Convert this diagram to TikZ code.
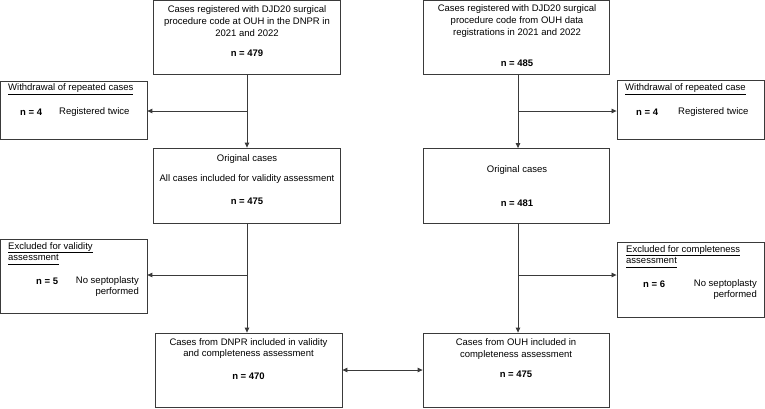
\documentclass[tikz,border=0pt]{standalone}
\usepackage{fontspec}
\setmainfont{Liberation Sans}
\usetikzlibrary{arrows.meta}
\definecolor{lin}{HTML}{3A3A3A}
\newcommand\myul[1]{\underline{\smash{#1}\vphantom{g}}}
\tikzset{
  box/.style={draw=lin, line width=0.8pt, rectangle, inner sep=0pt},
  txt/.style={inner sep=0pt, font=\fontsize{9.5}{11.6}\selectfont, align=center},
  arr/.style={draw=lin, line width=0.8pt, -{Triangle[length=5pt,width=4.5pt]}},
  darr/.style={draw=lin, line width=0.8pt, {Triangle[length=5pt,width=4.5pt]}-{Triangle[length=5pt,width=4.5pt]}}
}
\begin{document}
\begin{tikzpicture}[x=1pt,y=-1pt]
\useasboundingbox (0,0) rectangle (765,408);
% boxes
\node[box, minimum width=187pt, minimum height=73.5pt] (A) at (246.5,37.2) {};
\node[box, minimum width=186pt, minimum height=73.5pt] (D) at (516,37.2) {};
\node[box, minimum width=146.5pt, minimum height=58pt] (WL) at (73.7,110) {};
\node[box, minimum width=147.5pt, minimum height=59pt] (WR) at (690.7,109.5) {};
\node[box, minimum width=187pt, minimum height=75pt] (B) at (246.5,185.5) {};
\node[box, minimum width=186pt, minimum height=75pt] (E) at (516,186) {};
\node[box, minimum width=146.5pt, minimum height=74pt] (XL) at (73.7,276) {};
\node[box, minimum width=147.5pt, minimum height=75pt] (XR) at (690.7,279.5) {};
\node[box, minimum width=187pt, minimum height=74pt] (C) at (248.5,370) {};
\node[box, minimum width=186pt, minimum height=74pt] (F) at (516,370) {};
% texts
\node[txt] (tA) at (247,21) {Cases registered with DJD20 surgical\\procedure code at OUH in the DNPR in\\2021 and 2022};
\node[txt] (nA) at (247,53.7) {\textbf{n = 479}};
\node[txt] (tD) at (517,21) {Cases registered with DJD20 surgical\\procedure code from OUH data\\registrations in 2021 and 2022};
\node[txt] (nD) at (517,63) {\textbf{n = 485}};
\node[txt, anchor=west] (hWL) at (8,90) {\myul{Withdrawal of repeated cases}};
\node[txt, anchor=west] (nWL) at (20,112) {\textbf{n = 4}};
\node[txt, anchor=west] (rWL) at (59,112) {Registered twice};
\node[txt, anchor=west] (hWR) at (625,90) {\myul{Withdrawal of repeated case}};
\node[txt, anchor=west] (nWR) at (636,112) {\textbf{n = 4}};
\node[txt, anchor=west] (rWR) at (678,112) {Registered twice};
\node[txt] (oB) at (247,159) {Original cases};
\node[txt] (aB) at (247,179) {All cases included for validity assessment};
\node[txt] (nB) at (247,201.7) {\textbf{n = 475}};
\node[txt] (oE) at (517,170) {Original cases};
\node[txt] (nE) at (517,203) {\textbf{n = 481}};
\node[txt, anchor=west, align=left] (hXL) at (8,254.5) {\myul{Excluded for validity}\\\myul{assessment}};
\node[txt, anchor=west] (nXL) at (36,281) {\textbf{n = 5}};
\node[txt, anchor=east, align=right] (rXL) at (139,286.5) {No septoplasty\\performed};
\node[txt, anchor=west, align=left] (hXR) at (626,257.5) {\myul{Excluded for completeness}\\\myul{assessment}};
\node[txt, anchor=west] (nXR) at (643,284) {\textbf{n = 6}};
\node[txt, anchor=east, align=right] (rXR) at (757,289.5) {No septoplasty\\performed};
\node[txt] (tC) at (248.5,348.5) {Cases from DNPR included in validity\\and completeness assessment};
\node[txt] (nC) at (248.5,376) {\textbf{n = 470}};
\node[txt] (tF) at (516,349) {Cases from OUH included in\\completeness assessment};
\node[txt] (nF) at (516,374) {\textbf{n = 475}};
% connectors
\coordinate (jA) at (247,111);
\coordinate (jD) at (518,111);
\coordinate (jB) at (247,275);
\coordinate (jE) at (518,275);
\draw[arr] (A.south -| jA) -- (B.north -| jA);
\draw[arr] (jA) -- (jA -| WL.east);
\draw[arr] (D.south -| jD) -- (E.north -| jD);
\draw[arr] (jD) -- (jD -| WR.west);
\draw[arr] (B.south -| jB) -- (C.north -| jB);
\draw[arr] (jB) -- (jB -| XL.east);
\draw[arr] (E.south -| jE) -- (F.north -| jE);
\draw[arr] (jE) -- (jE -| XR.west);
\draw[darr] (C.east |- 0,370) -- (F.west |- 0,370);
\end{tikzpicture}
\end{document}
